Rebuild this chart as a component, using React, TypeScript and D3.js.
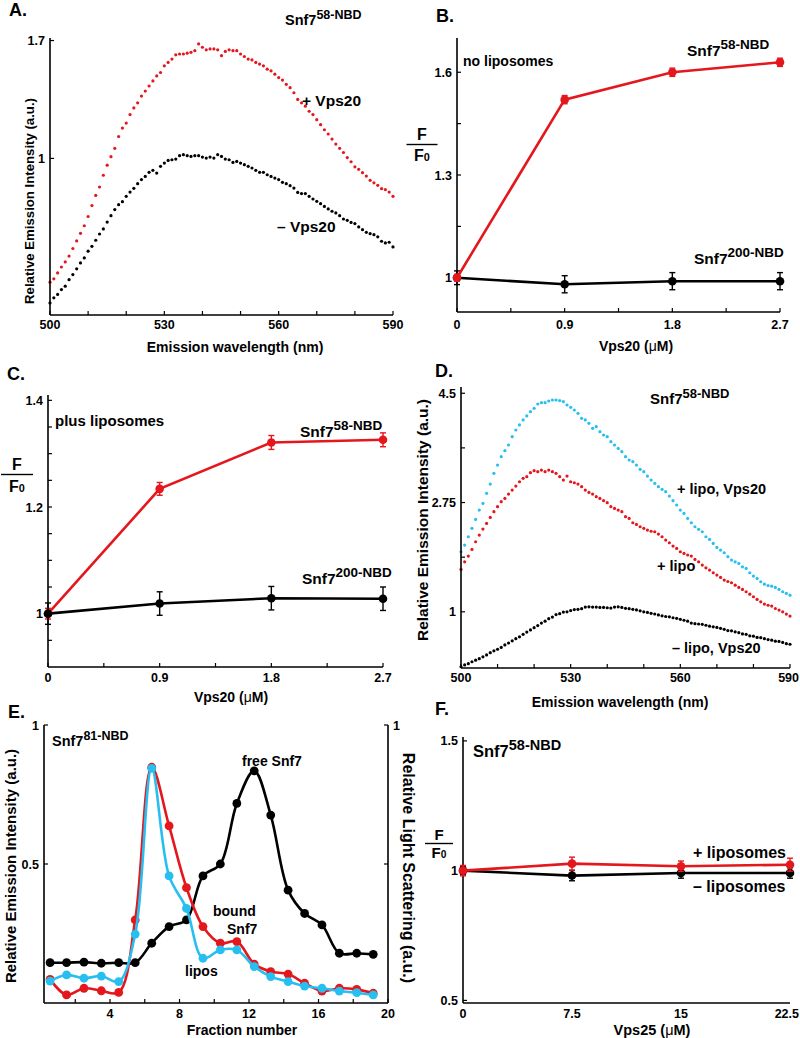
import React from "react";
import * as d3 from "d3";

const FONT = "'Liberation Sans', Arial, Helvetica, sans-serif";
const RED = "#e4171d";
const CYAN = "#27bff0";
const BLK = "#000000";

// ---------- Panel A : emission spectra ----------
const wlA = d3.range(500, 591);
const aPlusVps20 = [
  0.265, 0.285, 0.32, 0.355, 0.385, 0.42, 0.465, 0.51, 0.555, 0.6,
  0.655, 0.72, 0.78, 0.83, 0.9, 0.96, 1.01, 1.06, 1.13, 1.18,
  1.21, 1.26, 1.3, 1.33, 1.37, 1.4, 1.43, 1.46, 1.49, 1.51,
  1.55, 1.57, 1.59, 1.615, 1.62, 1.62, 1.625, 1.63, 1.64, 1.68,
  1.66, 1.645, 1.65, 1.65, 1.645, 1.61, 1.635, 1.645, 1.64, 1.64,
  1.62, 1.605, 1.59, 1.585, 1.57, 1.56, 1.55, 1.53, 1.52, 1.5,
  1.48, 1.465, 1.44, 1.42, 1.39, 1.35, 1.33, 1.31, 1.28, 1.26,
  1.23, 1.2, 1.17, 1.145, 1.115, 1.085, 1.06, 1.035, 1.005, 0.98,
  0.95, 0.935, 0.915, 0.895, 0.87, 0.855, 0.84, 0.82, 0.815, 0.8, 0.775,
];
const aMinusVps20 = [
  0.142, 0.172, 0.192, 0.221, 0.241, 0.28, 0.31, 0.344, 0.379, 0.409,
  0.449, 0.478, 0.514, 0.551, 0.581, 0.622, 0.66, 0.696, 0.725, 0.743,
  0.775, 0.8, 0.822, 0.85, 0.874, 0.893, 0.917, 0.929, 0.913, 0.953,
  0.972, 0.988, 0.992, 0.996, 1.016, 1.022, 1.016, 1.012, 1.016, 1.016,
  1.008, 1.002, 1.008, 1.002, 1.022, 1.012, 0.996, 0.992, 0.976, 0.982,
  0.972, 0.963, 0.953, 0.943, 0.929, 0.917, 0.917, 0.903, 0.893, 0.883,
  0.874, 0.858, 0.85, 0.838, 0.824, 0.798, 0.791, 0.791, 0.775, 0.759,
  0.745, 0.731, 0.715, 0.7, 0.686, 0.676, 0.66, 0.64, 0.632, 0.62,
  0.613, 0.593, 0.577, 0.561, 0.553, 0.547, 0.534, 0.508, 0.498, 0.502, 0.474,
];
const wlTickLabels = [500, 530, 560, 590];
const wlMinorTicks = [500, 510, 520, 530, 540, 550, 560, 570, 580, 590];
const aYTicks = [1, 1.7];

// ---------- Panels B / C : F/F0 vs Vps20 ----------
const vps20Conc = [0, 0.9, 1.8, 2.7];
const vps20Minor = [0, 0.45, 0.9, 1.35, 1.8, 2.25, 2.7];
const bSnf7_58 = [1, 1.52, 1.6, 1.629];
const bSnf7_58Err = [0.01, 0.012, 0.012, 0.012];
const bSnf7_200 = [1, 0.981, 0.99, 0.99];
const bSnf7_200Err = [0.02, 0.025, 0.025, 0.025];
const bYTicks = [1, 1.3, 1.6];
const bYMinor = [1, 1.15, 1.3, 1.45, 1.6];

const cSnf7_58 = [1, 1.234, 1.321, 1.326];
const cSnf7_58Err = [0.01, 0.012, 0.013, 0.013];
const cSnf7_200 = [1, 1.019, 1.029, 1.028];
const cSnf7_200Err = [0.02, 0.022, 0.022, 0.022];
const cYTicks = [1, 1.2, 1.4];
const cYMinor = [0.95, 1, 1.05, 1.1, 1.15, 1.2, 1.25, 1.3, 1.35, 1.4];

// ---------- Panel D : spectra with liposomes ----------
const wlD = d3.range(500, 591);
const dLipoVps20 = [
  1.962, 2.068, 2.202, 2.336, 2.48, 2.629, 2.736, 2.897, 3.046, 3.217,
  3.35, 3.484, 3.58, 3.671, 3.805, 3.911, 3.992, 4.072, 4.136, 4.205,
  4.259, 4.328, 4.349, 4.349, 4.376, 4.392, 4.392, 4.382, 4.366, 4.312,
  4.275, 4.232, 4.179, 4.098, 4.072, 4.018, 3.938, 3.965, 3.885, 3.831,
  3.805, 3.724, 3.671, 3.617, 3.564, 3.484, 3.431, 3.404, 3.35, 3.281,
  3.244, 3.174, 3.11, 3.057, 3.003, 2.961, 2.923, 2.854, 2.779, 2.71,
  2.629, 2.576, 2.496, 2.426, 2.362, 2.32, 2.282, 2.202, 2.159, 2.095,
  2.031, 1.988, 1.946, 1.882, 1.828, 1.8, 1.775, 1.721, 1.695, 1.625,
  1.572, 1.534, 1.481, 1.443, 1.42, 1.411, 1.39, 1.358, 1.321, 1.294, 1.267,
];
const dLipo = [
  1.679, 1.801, 1.892, 1.999, 2.122, 2.229, 2.325, 2.416, 2.512, 2.603,
  2.683, 2.763, 2.816, 2.886, 2.95, 3.014, 3.083, 3.137, 3.164, 3.228,
  3.26, 3.244, 3.27, 3.244, 3.27, 3.244, 3.217, 3.164, 3.11, 3.174,
  3.083, 3.067, 3.046, 3.003, 2.95, 2.912, 2.886, 2.843, 2.816, 2.779,
  2.747, 2.683, 2.656, 2.629, 2.603, 2.523, 2.496, 2.426, 2.4, 2.362,
  2.336, 2.309, 2.29, 2.282, 2.245, 2.202, 2.149, 2.106, 2.052, 2.015,
  1.962, 1.935, 1.91, 1.892, 1.839, 1.801, 1.748, 1.705, 1.668, 1.625,
  1.588, 1.55, 1.508, 1.485, 1.465, 1.427, 1.39, 1.358, 1.321, 1.283,
  1.241, 1.198, 1.16, 1.123, 1.105, 1.091, 1.053, 1.027, 1.0, 0.963, 0.931,
];
const dNoLipoVps20 = [
  0.12, 0.15, 0.17, 0.2, 0.225, 0.25, 0.279, 0.31, 0.345, 0.375,
  0.4, 0.43, 0.47, 0.5, 0.535, 0.57, 0.6, 0.64, 0.675, 0.71,
  0.745, 0.78, 0.82, 0.85, 0.89, 0.915, 0.955, 0.97, 0.995, 1.0,
  1.02, 1.035, 1.04, 1.05, 1.075, 1.08, 1.075, 1.075, 1.07, 1.07,
  1.065, 1.06, 1.075, 1.08, 1.07, 1.055, 1.05, 1.04, 1.03, 1.015,
  1.0, 0.99, 0.975, 0.965, 0.95, 0.935, 0.925, 0.92, 0.905, 0.895,
  0.88, 0.865, 0.85, 0.82, 0.81, 0.805, 0.8, 0.785, 0.77, 0.76,
  0.75, 0.735, 0.72, 0.7, 0.695, 0.68, 0.665, 0.645, 0.64, 0.615,
  0.61, 0.59, 0.585, 0.57, 0.555, 0.545, 0.53, 0.525, 0.51, 0.49, 0.48,
];
const dYTicks = [1, 2.75, 4.5];
const dYMinor = [1, 1.875, 2.75, 3.625, 4.5];

// ---------- Panel E : fractions ----------
const fractions = [0.55, 1.5, 2.5, 3.5, 4.5, 5.45, 6.4, 7.4, 8.4, 9.35, 10.35, 11.3, 12.3, 13.25, 14.25, 15.2, 16.2, 17.2, 18.2, 19.15];
const eFreeSnf7 = [0.145, 0.145, 0.147, 0.143, 0.145, 0.145, 0.215, 0.275, 0.299, 0.457, 0.5, 0.718, 0.835, 0.676, 0.406, 0.322, 0.281, 0.179, 0.179, 0.175];
const eBoundSnf7 = [0.085, 0.029, 0.053, 0.044, 0.038, 0.299, 0.848, 0.637, 0.415, 0.275, 0.215, 0.221, 0.14, 0.113, 0.104, 0.071, 0.043, 0.053, 0.049, 0.035];
const eLipos = [0.079, 0.101, 0.089, 0.097, 0.077, 0.248, 0.844, 0.457, 0.34, 0.161, 0.191, 0.191, 0.131, 0.095, 0.077, 0.061, 0.053, 0.043, 0.037, 0.029];
const eXTicks = [4, 8, 12, 16, 20];
const eXMinor = [2, 4, 6, 8, 10, 12, 14, 16, 18, 20];
const eYTicks = [0.5, 1];

// ---------- Panel F : Vps25 ----------
const vps25Conc = [0, 7.5, 15, 22.5];
const fPlusLipo = [1, 1.027, 1.017, 1.023];
const fPlusLipoErr = [0.02, 0.025, 0.02, 0.025];
const fMinusLipo = [1, 0.981, 0.991, 0.991];
const fMinusLipoErr = [0.015, 0.02, 0.02, 0.02];
const fYTicks = [0.5, 1, 1.5];

type Lin = d3.ScaleLinear<number, number>;

function Txt({ x, y, size = 14, anchor = "start", children, rotate = 0, weight = "bold" }: any) {
  const tr = rotate ? `rotate(${rotate},${x},${y})` : undefined;
  return (
    <text x={x} y={y} fontSize={size} fontWeight={weight} fontFamily={FONT} textAnchor={anchor} transform={tr} fill="#000">
      {children}
    </text>
  );
}

function TickText({ x, y, anchor = "middle", children, size = 12.5 }: any) {
  return (
    <text x={x} y={y} fontSize={size} fontWeight="bold" fontFamily={FONT} textAnchor={anchor} fill="#000">
      {children}
    </text>
  );
}

function SupLabel({ x, y, base, sup, size = 15, supSize = 13 }: any) {
  return (
    <text x={x} y={y} fontFamily={FONT} fontWeight="bold" fontSize={size} fill="#000">
      {base}
      <tspan fontSize={supSize} dy={-size * 0.42}>{sup}</tspan>
    </text>
  );
}

function FOverF0({ cx, yF, yLine, yF0, w, size = 16 }: any) {
  return (
    <g fontFamily={FONT} fontWeight="bold" fill="#000">
      <text x={cx} y={yF} textAnchor="middle" fontSize={size}>F</text>
      <line x1={cx - w / 2} x2={cx + w / 2} y1={yLine} y2={yLine} stroke="#000" strokeWidth={1.4} />
      <text x={cx} y={yF0} textAnchor="middle" fontSize={size}>
        F<tspan fontSize={size * 0.68}>0</tspan>
      </text>
    </g>
  );
}

function XAxis({ x, y0, ticks, labels, labelY, tickLen = 4 }: { x: Lin; y0: number; ticks: number[]; labels: number[]; labelY: number; tickLen?: number }) {
  const [a, b] = x.range();
  return (
    <g>
      <line x1={a} x2={b} y1={y0} y2={y0} stroke="#000" strokeWidth={1.6} />
      {ticks.map((t) => (
        <line key={"t" + t} x1={x(t)} x2={x(t)} y1={y0} y2={y0 - tickLen} stroke="#000" strokeWidth={1.2} />
      ))}
      {labels.map((t) => {
        const s = String(t);
        const half = s.length * 3.5;
        const px = x(t);
        const overflow = px + half > 798;
        return (
          <TickText key={"l" + t} x={overflow ? 799 : px} y={labelY} anchor={overflow ? "end" : "middle"}>{s}</TickText>
        );
      })}
    </g>
  );
}

function YAxis({ y, x0, top, bottom, ticks, labels, dir = 1, labelDx = -5, tickLen = 4 }: any) {
  return (
    <g>
      <line x1={x0} x2={x0} y1={top} y2={bottom} stroke="#000" strokeWidth={1.6} />
      {ticks.map((t: number) => (
        <line key={"t" + t} x1={x0} x2={x0 + dir * tickLen} y1={y(t)} y2={y(t)} stroke="#000" strokeWidth={1.2} />
      ))}
      {labels.map((t: number) => (
        <TickText key={"l" + t} x={x0 + labelDx} y={y(t) + 4.5} anchor={labelDx < 0 ? "end" : "start"}>{String(t)}</TickText>
      ))}
    </g>
  );
}

function Dots({ xs, ys, x, y, color, r = 1.6 }: any) {
  return (
    <g fill={color}>
      {ys.map((v: number, i: number) => (
        <circle key={i} cx={x(xs[i])} cy={y(v)} r={r} />
      ))}
    </g>
  );
}

function ErrSeries({ xs, ys, errs, x, y, color, r = 4.3 }: any) {
  const line = d3.line<number>().x((_, i) => x(xs[i])).y((v) => y(v));
  return (
    <g>
      <path d={line(ys) || ""} fill="none" stroke={color} strokeWidth={2.6} />
      {ys.map((v: number, i: number) => {
        const cx = x(xs[i]);
        const y1 = y(v - errs[i]);
        const y2 = y(v + errs[i]);
        return (
          <g key={i} stroke={color} strokeWidth={1.4}>
            <line x1={cx} x2={cx} y1={y1} y2={y2} />
            <line x1={cx - 3} x2={cx + 3} y1={y1} y2={y1} />
            <line x1={cx - 3} x2={cx + 3} y1={y2} y2={y2} />
            <circle cx={cx} cy={y(v)} r={r} fill={color} stroke="none" />
          </g>
        );
      })}
    </g>
  );
}

function CurveSeries({ xs, ys, x, y, color }: any) {
  const line = d3
    .line<number>()
    .x((_, i) => x(xs[i]))
    .y((v) => y(v))
    .curve(d3.curveCatmullRom.alpha(0.5));
  return (
    <g>
      <path d={line(ys) || ""} fill="none" stroke={color} strokeWidth={2.6} />
      {ys.map((v: number, i: number) => (
        <circle key={i} cx={x(xs[i])} cy={y(v)} r={4.4} fill={color} />
      ))}
    </g>
  );
}

function PanelA() {
  const x = d3.scaleLinear().domain([500, 590]).range([50, 393]);
  const y = d3.scaleLinear().domain([0.07, 1.715]).range([315, 38]);
  return (
    <g>
      <Txt x={9} y={16} size={18}>A.</Txt>
      <SupLabel x={285} y={25} base="Snf7" sup="58-NBD" size={14.5} supSize={12.5} />
      <Dots xs={wlA} ys={aPlusVps20} x={x} y={y} color={RED} />
      <Dots xs={wlA} ys={aMinusVps20} x={x} y={y} color={BLK} />
      <Txt x={302} y={106} size={15.5}>+ Vps20</Txt>
      <Txt x={277} y={232} size={15.5}>– Vps20</Txt>
      <XAxis x={x} y0={315} ticks={wlMinorTicks} labels={wlTickLabels} labelY={329} />
      <YAxis y={y} x0={50} top={38} bottom={315} ticks={aYTicks} labels={aYTicks} />
      <Txt x={235} y={352} size={14} anchor="middle">Emission wavelength (nm)</Txt>
      <Txt x={34} y={201} size={13.2} anchor="middle" rotate={-90}>Relative Emission Intensity  (a.u.)</Txt>
    </g>
  );
}

function PanelB() {
  const x = d3.scaleLinear().domain([0, 2.7]).range([457, 780]);
  const y = d3.scaleLinear().domain([0.9, 1.7]).range([312, 38]);
  return (
    <g>
      <Txt x={436} y={22} size={18}>B.</Txt>
      <XAxis x={x} y0={312} ticks={vps20Minor} labels={vps20Conc} labelY={329} />
      <YAxis y={y} x0={457} top={38} bottom={312} ticks={bYMinor} labels={bYTicks} />
      <ErrSeries xs={vps20Conc} ys={bSnf7_200} errs={bSnf7_200Err} x={x} y={y} color={BLK} />
      <ErrSeries xs={vps20Conc} ys={bSnf7_58} errs={bSnf7_58Err} x={x} y={y} color={RED} />
      <Txt x={463} y={66} size={14}>no liposomes</Txt>
      <SupLabel x={687} y={56} base="Snf7" sup="58-NBD" size={15.5} supSize={13.5} />
      <SupLabel x={694} y={264} base="Snf7" sup="200-NBD" size={15.5} supSize={13.5} />
      <FOverF0 cx={422} yF={140} yLine={144.5} yF0={161} w={31} size={16} />
      <text x={636} y={351} fontSize={14} fontWeight="bold" fontFamily={FONT} textAnchor="middle">
        Vps20 (<tspan fontWeight="normal">μ</tspan>M)
      </text>
    </g>
  );
}

function PanelC() {
  const x = d3.scaleLinear().domain([0, 2.7]).range([48, 383]);
  const y = d3.scaleLinear().domain([0.9, 1.41]).range([667, 395]);
  return (
    <g>
      <Txt x={7} y={380} size={18}>C.</Txt>
      <XAxis x={x} y0={667} ticks={vps20Minor} labels={vps20Conc} labelY={682} />
      <YAxis y={y} x0={48} top={395} bottom={667} ticks={cYMinor} labels={cYTicks} />
      <ErrSeries xs={vps20Conc} ys={cSnf7_58} errs={cSnf7_58Err} x={x} y={y} color={RED} />
      <ErrSeries xs={vps20Conc} ys={cSnf7_200} errs={cSnf7_200Err} x={x} y={y} color={BLK} />
      <Txt x={55} y={426} size={15}>plus liposomes</Txt>
      <SupLabel x={300} y={437} base="Snf7" sup="58-NBD" size={15.5} supSize={13.5} />
      <SupLabel x={302} y={584} base="Snf7" sup="200-NBD" size={15.5} supSize={13.5} />
      <FOverF0 cx={17} yF={470} yLine={474.5} yF0={492} w={32} size={16} />
      <text x={231} y={702} fontSize={14} fontWeight="bold" fontFamily={FONT} textAnchor="middle">
        Vps20 (<tspan fontWeight="normal">μ</tspan>M)
      </text>
    </g>
  );
}

function PanelD() {
  const x = d3.scaleLinear().domain([500, 590]).range([461, 790]);
  const y = d3.scaleLinear().domain([0.1, 4.6]).range([668, 387]);
  return (
    <g>
      <Txt x={435} y={377} size={18}>D.</Txt>
      <Dots xs={wlD} ys={dLipoVps20} x={x} y={y} color={CYAN} />
      <Dots xs={wlD} ys={dLipo} x={x} y={y} color={RED} />
      <Dots xs={wlD} ys={dNoLipoVps20} x={x} y={y} color={BLK} />
      <XAxis x={x} y0={668} ticks={wlMinorTicks} labels={wlTickLabels} labelY={682} />
      <YAxis y={y} x0={461} top={387} bottom={668} ticks={dYMinor} labels={dYTicks} />
      <SupLabel x={650} y={404} base="Snf7" sup="58-NBD" size={15} supSize={13} />
      <Txt x={677} y={494} size={14.5}>+ lipo, Vps20</Txt>
      <Txt x={657} y={571} size={14.5}>+ lipo</Txt>
      <Txt x={672} y={653} size={14.5}>– lipo, Vps20</Txt>
      <Txt x={620} y={707} size={14} anchor="middle">Emission wavelength (nm)</Txt>
      <Txt x={428} y={520} size={15.5} anchor="middle" rotate={-90}>Relative Emission Intensity  (a.u.)</Txt>
    </g>
  );
}

function PanelE() {
  const x = d3.scaleLinear().domain([0.2, 20]).range([44, 388]);
  const y = d3.scaleLinear().domain([0, 1]).range([1003, 725]);
  return (
    <g>
      <Txt x={8} y={718} size={18}>E.</Txt>
      <XAxis x={x} y0={1003} ticks={eXMinor} labels={eXTicks} labelY={1018} />
      <YAxis y={y} x0={44} top={725} bottom={1003} ticks={eYTicks} labels={eYTicks} labelDx={-5} />
      <YAxis y={y} x0={388} top={725} bottom={1003} ticks={eYTicks} labels={[1]} dir={-1} labelDx={5} />
      <CurveSeries xs={fractions} ys={eFreeSnf7} x={x} y={y} color={BLK} />
      <CurveSeries xs={fractions} ys={eBoundSnf7} x={x} y={y} color={RED} />
      <CurveSeries xs={fractions} ys={eLipos} x={x} y={y} color={CYAN} />
      <SupLabel x={52} y={746} base="Snf7" sup="81-NBD" size={14.5} supSize={12.5} />
      <Txt x={242} y={766} size={14}>free Snf7</Txt>
      <Txt x={213} y={916} size={14}>bound</Txt>
      <Txt x={227} y={934} size={14}>Snf7</Txt>
      <Txt x={185} y={976} size={14}>lipos</Txt>
      <Txt x={242} y={1035} size={14} anchor="middle">Fraction number</Txt>
      <Txt x={16} y={866} size={15} anchor="middle" rotate={-90}>Relative Emission Intensity  (a.u.)</Txt>
      <Txt x={403} y={868} size={16} anchor="middle" rotate={90}>Relative Light Scattering  (a.u.)</Txt>
    </g>
  );
}

function PanelF() {
  const x = d3.scaleLinear().domain([0, 22.5]).range([463, 790]);
  const y = d3.scaleLinear().domain([0.49, 1.515]).range([1003, 737]);
  return (
    <g>
      <Txt x={435} y={715} size={18}>F.</Txt>
      <XAxis x={x} y0={1003} ticks={[]} labels={vps25Conc} labelY={1018} />
      <YAxis y={y} x0={463} top={737} bottom={1003} ticks={fYTicks} labels={fYTicks} />
      <ErrSeries xs={vps25Conc} ys={fMinusLipo} errs={fMinusLipoErr} x={x} y={y} color={BLK} />
      <ErrSeries xs={vps25Conc} ys={fPlusLipo} errs={fPlusLipoErr} x={x} y={y} color={RED} />
      <SupLabel x={473} y={757} base="Snf7" sup="58-NBD" size={16.5} supSize={14.5} />
      <Txt x={693} y={858} size={16}>+ liposomes</Txt>
      <Txt x={693} y={892} size={16}>– liposomes</Txt>
      <FOverF0 cx={439} yF={840} yLine={843.5} yF0={858} w={28} size={15} />
      <text x={652} y={1035} fontSize={14.5} fontWeight="bold" fontFamily={FONT} textAnchor="middle">
        Vps25 (<tspan fontWeight="normal">μ</tspan>M)
      </text>
    </g>
  );
}

export default function App() {
  return (
    <svg width={800} height={1038} viewBox="0 0 800 1038" style={{ position: "absolute", left: 0, top: 0, background: "#fff" }}>
      <rect x={0} y={0} width={800} height={1038} fill="#fff" />
      <PanelA />
      <PanelB />
      <PanelC />
      <PanelD />
      <PanelE />
      <PanelF />
    </svg>
  );
}
